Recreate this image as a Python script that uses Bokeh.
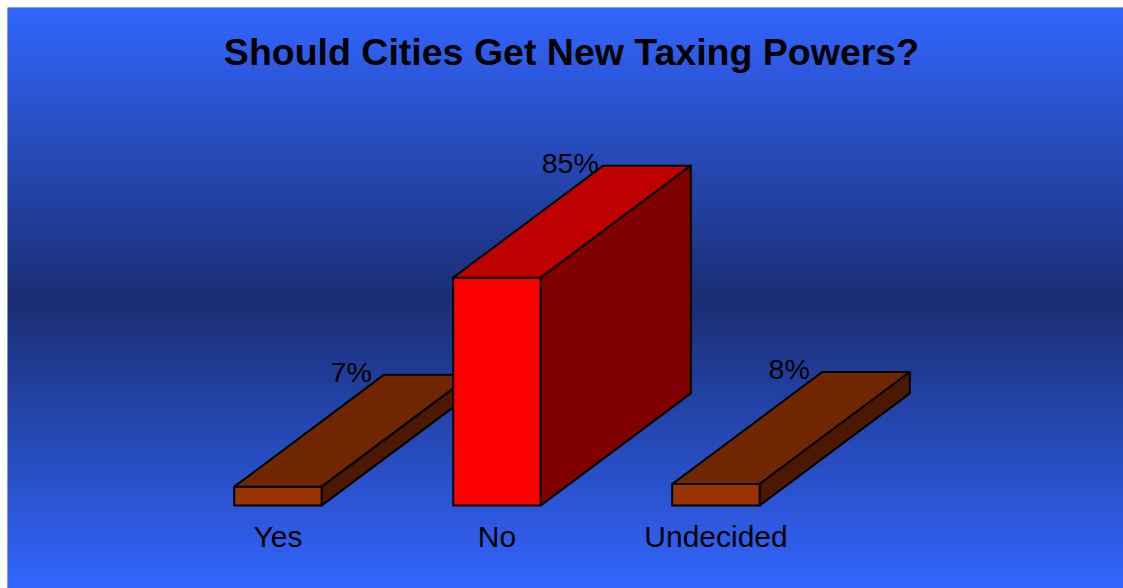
import numpy as np
from bokeh.plotting import figure
from bokeh.models import Range1d, ColumnDataSource
from bokeh.embed import file_html
from bokeh.resources import INLINE
from bokeh.core.properties import value

# ---- data ----
title = "Should Cities Get New Taxing Powers?"
categories = ["Yes", "No", "Undecided"]
percentages = [7, 85, 8]
value_labels = ["7%", "85%", "8%"]

# ---- styles ----
front_colors = ["#993300", "#FF0000", "#993300"]
top_colors = ["#702600", "#BF0000", "#702600"]
side_colors = ["#4C1900", "#800000", "#4C1900"]
EDGE_RGB = np.array([51, 102, 255], dtype=float)
MID_RGB = np.array([26, 46, 115], dtype=float)
FONT = "Liberation Sans"

W, H = 1123, 588
X0, X1 = -1.2352, 3.8607
Y0, Y1 = -31.0, 185.8
PX_PER_Y = (H - 7) / (Y1 - Y0)
PX_PER_X = (W - 7) / (X1 - X0)
HALF = 0.2                 # half bar width (x units)
DX = 150 / PX_PER_X        # 3D depth, x
DY = 112 / PX_PER_Y        # 3D depth, y

p = figure(width=W, height=H, output_backend="svg", toolbar_location=None,
           x_range=Range1d(X0, X1), y_range=Range1d(Y0, Y1),
           x_axis_location=None, y_axis_location=None,
           min_border_left=7, min_border_top=7, min_border_right=0, min_border_bottom=0)
p.grid.visible = False
p.outline_line_color = None
p.border_fill_color = "white"
p.background_fill_color = "#3366FF"

# ---- gradient background ----
N = H - 7
rows = np.arange(N)
center = (N - 1) / 2.0
t = np.abs(rows - center) / center
cols = MID_RGB[None, :] + (EDGE_RGB - MID_RGB)[None, :] * t[:, None]
img = np.zeros((N, 2), dtype=np.uint32)
view = img.view(dtype=np.uint8).reshape((N, 2, 4))
for c in range(2):
    view[:, c, 0] = cols[:, 0].astype(np.uint8)
    view[:, c, 1] = cols[:, 1].astype(np.uint8)
    view[:, c, 2] = cols[:, 2].astype(np.uint8)
    view[:, c, 3] = 255
p.image_rgba(image=[img], x=X0, y=Y0, dw=X1 - X0, dh=Y1 - Y0)

# ---- 3D bars ----
xs, ys, fills = [], [], []
for i, v in enumerate(percentages):
    xl, xr = i - HALF, i + HALF
    # front
    xs.append([xl, xr, xr, xl]); ys.append([0, 0, v, v]); fills.append(front_colors[i])
    # top
    xs.append([xl, xr, xr + DX, xl + DX]); ys.append([v, v, v + DY, v + DY]); fills.append(top_colors[i])
    # side
    xs.append([xr, xr + DX, xr + DX, xr]); ys.append([0, DY, v + DY, v]); fills.append(side_colors[i])

src = ColumnDataSource(dict(xs=xs, ys=ys, fill=fills))
p.patches(xs="xs", ys="ys", fill_color="fill", line_color="black", line_width=2,
          line_join="round", source=src)

# ---- value labels ----
xi = list(range(len(categories)))
p.text(x=[i - HALF + DX for i in xi], y=[v + DY + 3 / PX_PER_Y for v in percentages],
       x_offset=-33, text=value_labels, text_font=value(FONT), text_font_size="28.5px",
       text_align="center", text_baseline="alphabetic", text_color="black")

# ---- category labels ----
p.text(x=xi, y=[-31 / PX_PER_Y] * len(xi), text=categories, text_font=value(FONT),
       text_font_size="30px", text_align="center", text_baseline="alphabetic",
       text_color="black")

# ---- title ----
p.text(x=[X0 + (571 - 7) / PX_PER_X], y=[Y1 - (51 - 7) / PX_PER_Y], text=[title],
       text_font=value(FONT), text_font_size="37.5px", text_font_style="bold",
       text_align="center", text_baseline="alphabetic", text_color="black")

open("out.html", "w").write(file_html(p, INLINE))
